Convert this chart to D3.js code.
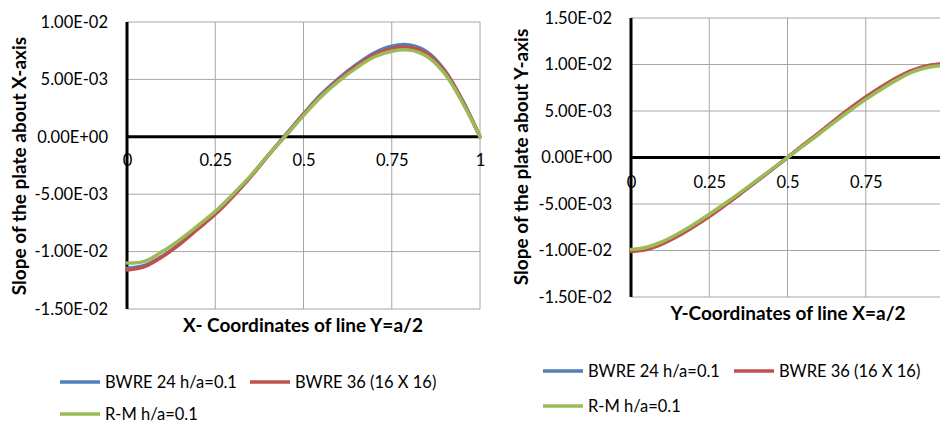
<!DOCTYPE html>
<html>
<head>
<meta charset="utf-8">
<script src="https://cdn.jsdelivr.net/npm/d3@7"></script>
<style>
  html, body { margin: 0; padding: 0; background: #fff; }
  svg { display: block; font-family: Lato, "Open Sans", sans-serif; }
</style>
</head>
<body>
<svg id="chart" width="940" height="425"></svg>
<script>
// Positions along the centre lines (normalised by plate side a)
const xCoords = [0, 0.05, 0.1, 0.15, 0.2, 0.25, 0.3, 0.35, 0.4, 0.45, 0.5,
                 0.55, 0.6, 0.65, 0.7, 0.75, 0.8, 0.85, 0.9, 0.95, 1];

// Slope about X-axis along Y = a/2 (x 1e-3)
const slopeX_BWRE24 = [-11.45, -11.2, -10.4, -9.3, -8.0, -6.7, -5.15, -3.45, -1.6, 0.2, 2.0,
                       3.7, 5.1, 6.3, 7.3, 7.9, 8.0, 7.4, 5.8, 3.2, 0];
const slopeX_BWRE36 = [-11.6, -11.3, -10.45, -9.35, -8.05, -6.75, -5.2, -3.5, -1.65, 0.15, 1.95,
                       3.6, 5.0, 6.2, 7.15, 7.7, 7.8, 7.25, 5.7, 3.15, 0];
const slopeX_RM     = [-11.0, -10.85, -10.0, -8.95, -7.75, -6.5, -5.0, -3.4, -1.6, 0.1, 1.85,
                       3.5, 4.85, 6.0, 6.95, 7.45, 7.55, 7.0, 5.5, 3.0, 0];

// Slope about Y-axis along X = a/2 (x 1e-3)
const slopeY_BWRE24 = [-10.05, -9.85, -9.25, -8.4, -7.4, -6.3, -5.1, -3.85, -2.6, -1.3, 0,
                       1.3, 2.6, 3.95, 5.25, 6.45, 7.55, 8.55, 9.35, 9.85, 10.05];
const slopeY_BWRE36 = [-10.1, -9.9, -9.3, -8.45, -7.45, -6.35, -5.15, -3.9, -2.6, -1.3, 0,
                       1.35, 2.65, 4.0, 5.3, 6.5, 7.6, 8.6, 9.4, 9.9, 10.1];
const slopeY_RM     = [-9.9, -9.65, -9.05, -8.2, -7.2, -6.1, -4.95, -3.75, -2.5, -1.25, 0,
                       1.25, 2.5, 3.8, 5.05, 6.25, 7.35, 8.35, 9.2, 9.7, 9.9];

const seriesNames = ["BWRE 24 h/a=0.1", "BWRE 36 (16 X 16)", "R-M h/a=0.1"];
const seriesColors = ["#4F81BD", "#C0504D", "#9BBB59"];

const xTicks = [0, 0.25, 0.5, 0.75, 1];
const xTickLabels = ["0", "0.25", "0.5", "0.75", "1"];
const yTicksLeft = [-0.015, -0.01, -0.005, 0, 0.005, 0.01];
const yTicksRight = [-0.015, -0.01, -0.005, 0, 0.005, 0.01, 0.015];

const svg = d3.select("#chart");
const tickFont = 16.5, titleFont = 19, legendFont = 16.5;

function expLabel(v) {
  if (v === 0) return "0.00E+00";
  const e = Math.floor(Math.log10(Math.abs(v)) + 1e-9);
  const m = v / Math.pow(10, e);
  const es = (e < 0 ? "-" : "+") + String(Math.abs(e)).padStart(2, "0");
  return m.toFixed(2) + "E" + es;
}

function panel(cfg) {
  const g = svg.append("g");
  const x = d3.scaleLinear().domain([0, 1]).range([cfg.left, cfg.right]);
  const y = d3.scaleLinear().domain(cfg.yDomain).range([cfg.bottom, cfg.top]);

  // grid
  g.append("g").selectAll("line").data(xTicks.slice(1)).join("line")
    .attr("x1", d => x(d)).attr("x2", d => x(d))
    .attr("y1", cfg.top).attr("y2", cfg.bottom)
    .attr("stroke", "#a6a6a6").attr("stroke-width", 1);
  g.append("g").selectAll("line").data(cfg.yTicks.filter(d => d !== 0)).join("line")
    .attr("x1", cfg.left).attr("x2", cfg.right)
    .attr("y1", d => y(d)).attr("y2", d => y(d))
    .attr("stroke", "#a6a6a6").attr("stroke-width", 1);

  // y axis tick labels
  const yAxis = d3.axisLeft(y).tickValues(cfg.yTicks).tickFormat(expLabel).tickSize(0).tickPadding(0);
  const ya = g.append("g").attr("transform", `translate(${cfg.yLabelX},0)`).call(yAxis);
  ya.select(".domain").remove();
  ya.selectAll("text").attr("font-size", tickFont).attr("fill", "#000")
    .attr("font-family", "Lato, sans-serif");

  // x axis tick labels (sit just under the zero line)
  const xAxis = d3.axisBottom(x).tickValues(xTicks).tickFormat((d, i) => xTickLabels[i]).tickSize(0).tickPadding(0);
  const xa = g.append("g").attr("transform", `translate(0,${cfg.xLabelY})`).call(xAxis);
  xa.select(".domain").remove();
  xa.selectAll("text").attr("font-size", tickFont).attr("fill", "#000")
    .attr("font-family", "Lato, sans-serif").attr("dy", "0.35em");

  // zero line and vertical axis
  g.append("line").attr("x1", cfg.left).attr("x2", cfg.right)
    .attr("y1", y(0)).attr("y2", y(0)).attr("stroke", "#000").attr("stroke-width", 3);
  g.append("line").attr("x1", cfg.left).attr("x2", cfg.left)
    .attr("y1", cfg.top).attr("y2", cfg.bottom).attr("stroke", "#000").attr("stroke-width", 3);

  // series
  const line = d3.line().x((d, i) => x(xCoords[i])).y(d => y(d * 1e-3)).curve(d3.curveCatmullRom.alpha(0.5));
  cfg.series.forEach((s, i) => {
    g.append("path").attr("d", line(s)).attr("fill", "none")
      .attr("stroke", seriesColors[i]).attr("stroke-width", 3.5)
      .attr("stroke-linecap", "round").attr("stroke-linejoin", "round");
  });

  // axis titles
  g.append("text").attr("transform", `translate(${cfg.yTitleX},${cfg.yTitleY}) rotate(-90)`)
    .attr("text-anchor", "middle").attr("font-weight", "bold").attr("font-size", titleFont)
    .text(cfg.yTitle);
  g.append("text").attr("x", cfg.xTitleX).attr("y", cfg.xTitleY)
    .attr("text-anchor", "middle").attr("font-weight", "bold").attr("font-size", titleFont)
    .text(cfg.xTitle);

  // legend
  const L = cfg.legend;
  const pos = [[L.x0, L.y0], [L.x1, L.y0], [L.x0, L.y1]];
  pos.forEach((p, i) => {
    g.append("line").attr("x1", p[0]).attr("x2", p[0] + 40).attr("y1", p[1]).attr("y2", p[1])
      .attr("stroke", seriesColors[i]).attr("stroke-width", 3.5);
    g.append("text").attr("x", p[0] + 45).attr("y", p[1]).attr("dy", "0.35em")
      .attr("font-size", legendFont).text(seriesNames[i]);
  });
}

panel({
  left: 127, right: 480, top: 22, bottom: 309,
  yDomain: [-0.015, 0.01], yTicks: yTicksLeft,
  yLabelX: 108, xLabelY: 160,
  series: [slopeX_BWRE24, slopeX_BWRE36, slopeX_RM],
  yTitle: "Slope of the plate about X-axis", yTitleX: 26, yTitleY: 166,
  xTitle: "X- Coordinates of line Y=a/2", xTitleX: 303, xTitleY: 332,
  legend: { x0: 60, x1: 250, y0: 382, y1: 414 }
});

panel({
  left: 631, right: 944, top: 18, bottom: 297,
  yDomain: [-0.015, 0.015], yTicks: yTicksRight,
  yLabelX: 612, xLabelY: 182,
  series: [slopeY_BWRE24, slopeY_BWRE36, slopeY_RM],
  yTitle: "Slope of the plate about Y-axis", yTitleX: 528, yTitleY: 157,
  xTitle: "Y-Coordinates of line X=a/2", xTitleX: 788, xTitleY: 320,
  legend: { x0: 543, x1: 734, y0: 371, y1: 406 }
});
</script>
</body>
</html>
